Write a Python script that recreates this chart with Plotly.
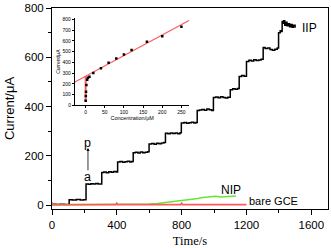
import plotly.graph_objects as go

# ---- main chart data ----
iip_t = [0, 25, 50, 75,
         106, 125, 150, 175, 195,
         210, 225, 240, 255, 270, 285,
         307, 320, 335, 350, 365, 380, 395,
         405, 420, 435, 450, 465, 480, 492,
         501, 515, 530, 545, 560, 575, 590,
         599, 615, 630, 645, 660, 675, 690,
         700, 715, 730, 745, 760, 775, 790,
         798, 815, 830, 845, 860, 875, 888,
         896, 910, 925, 940, 955, 970, 985,
         996, 1010, 1025, 1040, 1055, 1070, 1085,
         1100, 1115, 1130, 1145,
         1155, 1170, 1185,
         1200, 1215, 1230, 1245, 1260, 1275, 1290,
         1303, 1315, 1330, 1345, 1360, 1375, 1390,
         1398, 1408, 1415, 1420, 1425, 1430, 1436, 1442, 1450, 1458, 1466, 1474, 1482, 1490, 1500]
iip_i = [3, 2, 3, 2,
         22, 21, 23, 21, 22,
         86, 84, 87, 85, 88, 85,
         132, 134, 131, 135, 133, 136, 134,
         175, 177, 174, 176, 178, 175, 177,
         212, 214, 211, 215, 212, 214, 216,
         248, 250, 247, 251, 249, 252, 254,
         292, 290, 293, 291, 293, 290, 294,
         333, 335, 332, 334, 336, 333, 335,
         384, 386, 388, 385, 390, 387, 384,
         437, 439, 436, 440, 437, 435, 438,
         468, 472, 470, 473,
         522, 526, 523,
         583, 588, 585, 590, 587, 589, 592,
         640, 636, 638, 632, 628, 633, 638,
         700, 708, 705, 745, 738, 748, 730, 742, 728, 736, 724, 733, 722, 730, 720]

nip_t = [0, 400, 550, 600, 650, 700, 720, 780, 810, 850, 900, 930, 990, 1010, 1040, 1080, 1135]
nip_i = [0, 1, 2, 4, 6, 10, 13, 16, 20, 23, 27, 31, 37, 36, 33, 35, 37]

gce_t = [0, 2, 4, 100, 395, 400, 405, 795, 800, 805, 1200]
gce_i = [10, 3, 2, 2, 2, 7, 2, 2, 7, 2, 2]

# ---- inset data ----
conc = [0.1, 0.5, 1, 2, 4, 6, 10, 20, 40, 60, 80, 100, 120, 160, 200, 250]
resp = [45, 88, 128, 190, 240, 258, 268, 301, 347, 398, 438, 474, 517, 593, 644, 733]
fit_low_x = [0, 0]
fit_low_y = [40, 274]
fit_x = [-28, 270]
fit_y = [219, 790]

RED = "#ff5a5a"
GREEN = "#66e633"

fig = go.Figure()
fig.add_trace(go.Scatter(x=iip_t, y=iip_i, mode="lines", line=dict(color="black", width=1.5, shape="hv"),
                         showlegend=False))
fig.add_trace(go.Scatter(x=nip_t, y=nip_i, mode="lines", line=dict(color=GREEN, width=1.5),
                         showlegend=False))
fig.add_trace(go.Scatter(x=gce_t, y=gce_i, mode="lines", line=dict(color=RED, width=1.8),
                         showlegend=False))

# inset
fig.add_trace(go.Scatter(x=fit_x, y=fit_y, mode="lines", line=dict(color=RED, width=1.2),
                         xaxis="x2", yaxis="y2", showlegend=False))
fig.add_trace(go.Scatter(x=fit_low_x, y=fit_low_y, mode="lines", line=dict(color=RED, width=2),
                         xaxis="x2", yaxis="y2", showlegend=False))
fig.add_trace(go.Scatter(x=conc, y=resp, mode="markers",
                         marker=dict(color="black", size=2.5, symbol="square"),
                         xaxis="x2", yaxis="y2", showlegend=False))

axis_common = dict(showline=True, linecolor="black", linewidth=1, ticks="outside",
                   tickcolor="black", showgrid=False, zeroline=False)

fig.update_layout(
    width=331, height=248,
    margin=dict(l=52, r=2, t=6, b=38),
    paper_bgcolor="white", plot_bgcolor="white",
    font=dict(family="Liberation Sans, Arial, sans-serif", color="black"),
    xaxis=dict(range=[0, 1703], tickvals=[0, 400, 800, 1200, 1600], ticklen=5, mirror=True,
               minor=dict(tickvals=[200, 600, 1000, 1400], ticklen=3, ticks="outside", tickcolor="black"),
               tickfont=dict(size=11.5),
               title=dict(text="Time/s", font=dict(family="Liberation Serif, Times New Roman, serif", size=12.5),
                          standoff=6),
               **axis_common),
    yaxis=dict(range=[-16, 800], tickvals=[0, 200, 400, 600, 800], ticklen=5, mirror=True,
               minor=dict(tickvals=[100, 300, 500, 700], ticklen=3, ticks="outside", tickcolor="black"),
               tickfont=dict(size=11.5),
               title=dict(text="Current/μA", font=dict(size=13), standoff=6),
               **axis_common),
    xaxis2=dict(domain=[0.083, 0.498], anchor="y2", range=[-28, 271],
                tickvals=[0, 50, 100, 150, 200, 250], ticklen=2, tickfont=dict(size=5),
                title=dict(text="Concentration/μM", font=dict(size=5.5), standoff=1),
                **axis_common),
    yaxis2=dict(domain=[0.515, 0.951], anchor="x2", range=[0, 815],
                tickvals=[0, 100, 200, 300, 400, 500, 600, 700, 800], ticklen=2, tickfont=dict(size=5),
                title=dict(text="Current/μA", font=dict(size=5), standoff=1),
                **axis_common),
    annotations=[
        dict(x=1590, y=718, xref="x", yref="y", text="IIP", showarrow=False, font=dict(size=12)),
        dict(x=1105, y=62, xref="x", yref="y", text="NIP", showarrow=False, font=dict(size=12)),
        dict(x=1365, y=17, xref="x", yref="y", text="bare GCE", showarrow=False, font=dict(size=11)),
        dict(x=222, y=251, xref="x", yref="y", text="p", showarrow=False, font=dict(size=12.5)),
        dict(x=219, y=113, xref="x", yref="y", text="a", showarrow=False, font=dict(size=12.5)),
        dict(x=222, y=232, xref="x", yref="y", ax=222, ay=135, axref="x", ayref="y",
             text="", showarrow=True, arrowhead=2, arrowsize=0.8, arrowwidth=0.8, arrowcolor="black"),
    ],
)

fig.write_html("out.html", config={"displayModeBar": False, "staticPlot": True},
               post_script="document.body.style.margin='0';document.body.style.overflow='hidden';")
